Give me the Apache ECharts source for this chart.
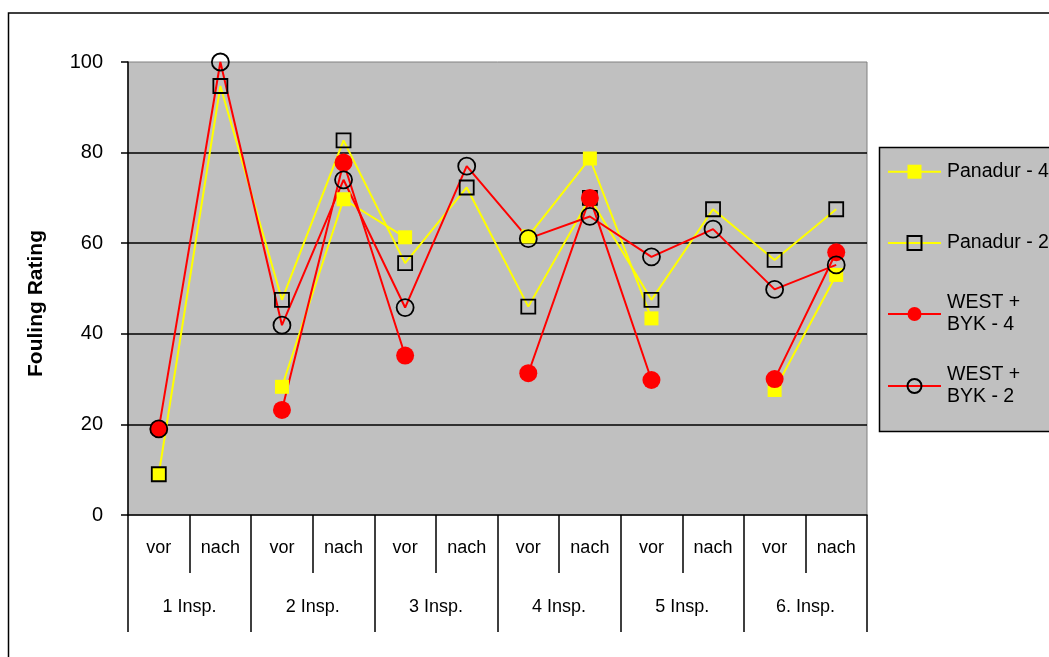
<!DOCTYPE html>
<html>
<head>
<meta charset="utf-8">
<script src="https://cdn.jsdelivr.net/npm/echarts@6/dist/echarts.min.js"></script>
<style>
  html, body { margin: 0; padding: 0; background: #fff; }
  #chart { width: 1049px; height: 657px; }
</style>
</head>
<body>
<div id="chart"></div>
<script>
// Inspection phases (vor / nach) and the inspection groups below them
const categories = ['vor', 'nach', 'vor', 'nach', 'vor', 'nach', 'vor', 'nach', 'vor', 'nach', 'vor', 'nach'];
const inspections = ['1 Insp.', '2 Insp.', '3 Insp.', '4 Insp.', '5 Insp.', '6. Insp.'];

// Fouling rating per coating system (null = not rated)
const panadur4 = [9, null, 28.3, 69.7, 61.3, null, 61.5, 78.7, 43.4, null, 27.6, 53];
const panadur2 = [9, 94.7, 47.5, 82.7, 55.6, 72.3, 46, 70, 47.5, 67.5, 56.3, 67.5];
const westByk4 = [19, null, 23.2, 77.8, 35.2, null, 31.3, 70, 29.8, null, 30, 58];
const westByk2 = [19, 100, 41.9, 74, 45.8, 77, 61, 65.9, 57, 63.1, 49.8, 55.2];

const seriesNames = ['Panadur - 4', 'Panadur - 2', 'WEST + BYK - 4', 'WEST + BYK - 2'];
const legendLabels = ['Panadur - 4', 'Panadur - 2', 'WEST +\nBYK - 4', 'WEST +\nBYK - 2'];

const FONT = '"Liberation Sans", Arial, Helvetica, sans-serif';

const chart = echarts.init(document.getElementById('chart'), null, { renderer: 'canvas' });

function lineSeries(name, data, lineColor, symbol, size, fill, border) {
  return {
    name: name,
    type: 'line',
    xAxisIndex: 0,
    data: data,
    symbol: symbol,
    symbolSize: size,
    showSymbol: true,
    showAllSymbol: true,
    connectNulls: false,
    clip: false,
    lineStyle: { color: lineColor, width: 2 },
    itemStyle: {
      color: fill,
      borderColor: border ? '#000' : fill,
      borderWidth: border ? 1.8 : 0
    },
    emphasis: { disabled: true }
  };
}

function legendFor(i, top, twoLines) {
  return {
    data: [{ name: seriesNames[i] }],
    orient: 'vertical',
    left: 887,
    top: top,
    padding: 0,
    itemWidth: 53,
    itemHeight: 17.5,
    selectedMode: false,
    formatter: function () { return legendLabels[i]; },
    textStyle: {
      fontFamily: FONT,
      fontSize: 19.5,
      color: '#000',
      lineHeight: 22,
      padding: twoLines ? [22, 0, 0, 1] : [0, 0, 0, 1]
    }
  };
}

chart.setOption({
  animation: false,
  backgroundColor: '#fff',
  textStyle: { fontFamily: FONT },
  graphic: [
    {
      type: 'rect',
      z: -10,
      shape: { x: 8.5, y: 13, width: 1100, height: 700 },
      style: { fill: 'none', stroke: '#000', lineWidth: 1.5 },
      silent: true
    },
    {
      type: 'rect',
      z: 0,
      shape: { x: 879.5, y: 147.5, width: 200, height: 284 },
      style: { fill: '#C0C0C0', stroke: '#000', lineWidth: 1.5 },
      silent: true
    }
  ],
  legend: [
    legendFor(0, 160.7, false),
    legendFor(1, 232, false),
    legendFor(2, 281, true),
    legendFor(3, 353, true)
  ],
  grid: {
    left: 128,
    right: 182,
    top: 62,
    bottom: 142,
    show: true,
    backgroundColor: '#C0C0C0',
    borderColor: '#808080',
    borderWidth: 1
  },
  xAxis: [
    {
      type: 'category',
      data: categories,
      position: 'bottom',
      boundaryGap: true,
      axisLine: { show: true, lineStyle: { color: '#000', width: 1.5 } },
      axisTick: { show: true, interval: 0, length: 58, lineStyle: { color: '#000', width: 1.5 } },
      axisLabel: { interval: 0, margin: 24, fontSize: 18, color: '#000', fontFamily: FONT },
      splitLine: { show: false }
    },
    {
      type: 'category',
      data: inspections,
      position: 'bottom',
      boundaryGap: true,
      axisLine: { show: false },
      axisTick: { show: true, interval: 0, length: 117, lineStyle: { color: '#000', width: 1.5 } },
      axisLabel: { interval: 0, margin: 83, fontSize: 18, color: '#000', fontFamily: FONT },
      splitLine: { show: false }
    }
  ],
  yAxis: {
    type: 'value',
    min: 0,
    max: 100,
    interval: 20,
    name: 'Fouling Rating',
    nameLocation: 'middle',
    nameRotate: 90,
    nameGap: 81,
    nameTextStyle: {
      fontFamily: FONT,
      fontSize: 21,
      fontWeight: 'bold',
      color: '#000',
      padding: [0, 30, 0, 0]
    },
    axisLine: { show: true, lineStyle: { color: '#000', width: 1.5 } },
    axisTick: { show: true, inside: false, length: 7, lineStyle: { color: '#000', width: 1.5 } },
    axisLabel: { margin: 25, fontSize: 20, color: '#000', fontFamily: FONT },
    splitLine: {
      show: true,
      showMinLine: false,
      showMaxLine: false,
      lineStyle: { color: '#000', width: 1.5 }
    }
  },
  series: [
    lineSeries(seriesNames[0], panadur4, '#FFFF00', 'rect', 14, '#FFFF00', false),
    lineSeries(seriesNames[1], panadur2, '#FFFF00', 'rect', 14, 'rgba(0,0,0,0)', true),
    lineSeries(seriesNames[2], westByk4, '#FF0000', 'circle', 18, '#FF0000', false),
    lineSeries(seriesNames[3], westByk2, '#FF0000', 'circle', 17, 'rgba(0,0,0,0)', true)
  ]
});
</script>
</body>
</html>
